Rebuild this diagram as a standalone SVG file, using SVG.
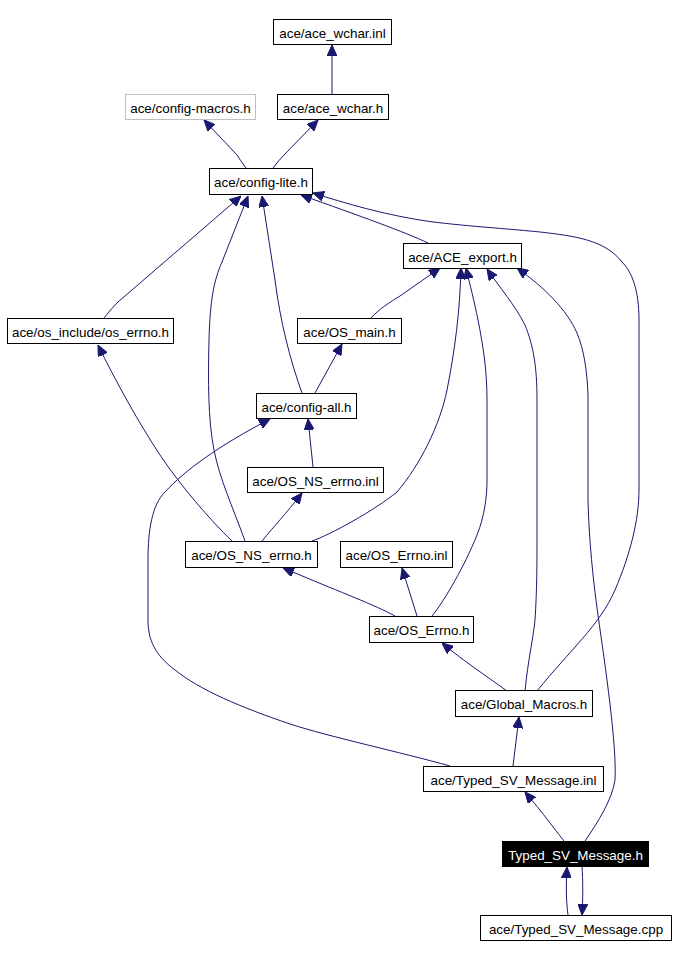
<svg xmlns="http://www.w3.org/2000/svg" width="676" height="958" viewBox="0 0 676 958">
<style>
.n rect{fill:#fff;stroke:#000;stroke-width:1}
.n text{font-family:"Liberation Sans",Arial,sans-serif;font-size:13.4px;text-anchor:middle;fill:#000}
.g rect{stroke:#bfbfbf}
.h rect{fill:#000}
.h text{fill:#fff}
#edges path{fill:none;stroke:#191970;stroke-width:1;marker-end:url(#ah)}
</style>
<defs>
<marker id="ah" markerUnits="userSpaceOnUse" viewBox="0 0 11 10" refX="11" refY="5" markerWidth="11" markerHeight="10" orient="auto">
<path d="M0,0 L11,5 L0,10 z" fill="#191970" stroke="#191970" stroke-width="1"/>
</marker>
</defs>
<rect width="676" height="958" fill="#fff"/>
<g id="edges">
<path d="M332,94 L332,45"/>
<path d="M246,168 Q240,160 237,155 L204,120"/>
<path d="M273,168 Q279,160 284,155 L318,120"/>
<path d="M104,318 Q110,310 118,302 L241,196"/>
<path d="M245,541 C232,505 220,480 214,450 C208,420 208,380 209,340 C210,300 214,280 222,262 L248,196"/>
<path d="M302,393 C290,360 280,320 275,280 L262,196"/>
<path d="M315,393 L342,344"/>
<path d="M428,243 C405,232 360,216 301,195"/>
<path d="M537,691 C570,650 600,625 615,590 C630,555 639,520 639,490 L639,320 C639,290 632,272 622,262 C605,240 575,236 540,232 C500,228 450,225 420,220 C390,215 360,208 313,193"/>
<path d="M371,318 C378,310 390,302 400,296 L440,268"/>
<path d="M312,541 C330,535 375,510 397,492 C420,465 440,425 447,390 C455,350 460,310 461,268"/>
<path d="M432,616 C445,600 465,565 477,535 C485,515 487,495 487,480 L487,400 C487,370 483,345 478,320 C474,300 470,285 466,268"/>
<path d="M525,691 C528,660 533,640 535,620 C537,590 537,560 537,540 L537,400 C537,365 533,345 525,325 C515,305 500,288 487,269"/>
<path d="M585,841 C598,822 612,800 615,780 C617,745 605,665 598,615 C593,580 589,540 588,500 L588,395 C587,370 584,350 577,333 C567,310 545,288 517,268"/>
<path d="M450,766 C400,752 330,737 290,724 C240,707 200,690 175,670 C155,655 148,640 148,620 L148,560 C148,530 152,505 165,492 C185,470 220,445 270,419"/>
<path d="M313,467 L308,419"/>
<path d="M262,541 C275,525 285,515 302,493"/>
<path d="M232,541 C210,520 180,485 160,455 C140,425 115,380 98,345"/>
<path d="M395,616 C375,605 340,592 300,575 L283,568"/>
<path d="M417,616 L402,568"/>
<path d="M507,691 C485,675 465,662 442,643"/>
<path d="M513,766 L519,717"/>
<path d="M564,841 C557,832 550,823 540,810 L525,792"/>
<path d="M568,915 C566,900 566,885 567,867"/>
<path d="M582,866 C583,880 583,900 582,915"/>
</g>
<g id="n_wchar_inl" class="n"><rect x="273.5" y="19.5" width="118" height="25"/><text x="332.5" y="37.5">ace/ace_wchar.inl</text></g>
<g id="n_config_macros" class="n g"><rect x="125.5" y="94.5" width="130" height="25"/><text x="190.5" y="112.5">ace/config-macros.h</text></g>
<g id="n_wchar_h" class="n"><rect x="277.5" y="94.5" width="111" height="25"/><text x="333" y="112.5">ace/ace_wchar.h</text></g>
<g id="n_config_lite" class="n"><rect x="209.5" y="168.5" width="103" height="26"/><text x="261" y="187">ace/config-lite.h</text></g>
<g id="n_ace_export" class="n"><rect x="403.5" y="243.5" width="118" height="25"/><text x="462.5" y="261.5">ace/ACE_export.h</text></g>
<g id="n_os_errno" class="n"><rect x="7.5" y="318.5" width="166" height="25"/><text x="90.5" y="336.5">ace/os_include/os_errno.h</text></g>
<g id="n_os_main" class="n"><rect x="297.5" y="318.5" width="104" height="25"/><text x="349.5" y="336.5">ace/OS_main.h</text></g>
<g id="n_config_all" class="n"><rect x="256.5" y="393.5" width="100" height="25"/><text x="306.5" y="411.5">ace/config-all.h</text></g>
<g id="n_os_ns_errno_inl" class="n"><rect x="247.5" y="467.5" width="136" height="25"/><text x="315.5" y="485.5">ace/OS_NS_errno.inl</text></g>
<g id="n_os_ns_errno_h" class="n"><rect x="185.5" y="541.5" width="132" height="26"/><text x="251.5" y="560">ace/OS_NS_errno.h</text></g>
<g id="n_os_errno_inl" class="n"><rect x="340.5" y="541.5" width="112" height="26"/><text x="396.5" y="560">ace/OS_Errno.inl</text></g>
<g id="n_os_errno_h" class="n"><rect x="369.5" y="616.5" width="104" height="26"/><text x="421.5" y="635">ace/OS_Errno.h</text></g>
<g id="n_global_macros" class="n"><rect x="455.5" y="690.5" width="137" height="26"/><text x="524" y="709">ace/Global_Macros.h</text></g>
<g id="n_typed_inl" class="n"><rect x="423.5" y="766.5" width="180" height="25"/><text x="513.5" y="784.5">ace/Typed_SV_Message.inl</text></g>
<g id="n_typed_h" class="n h"><rect x="502.5" y="841.5" width="146" height="25"/><text x="575.5" y="859.5">Typed_SV_Message.h</text></g>
<g id="n_typed_cpp" class="n"><rect x="480.5" y="915.5" width="191" height="25"/><text x="576" y="933.5">ace/Typed_SV_Message.cpp</text></g>
</svg>
